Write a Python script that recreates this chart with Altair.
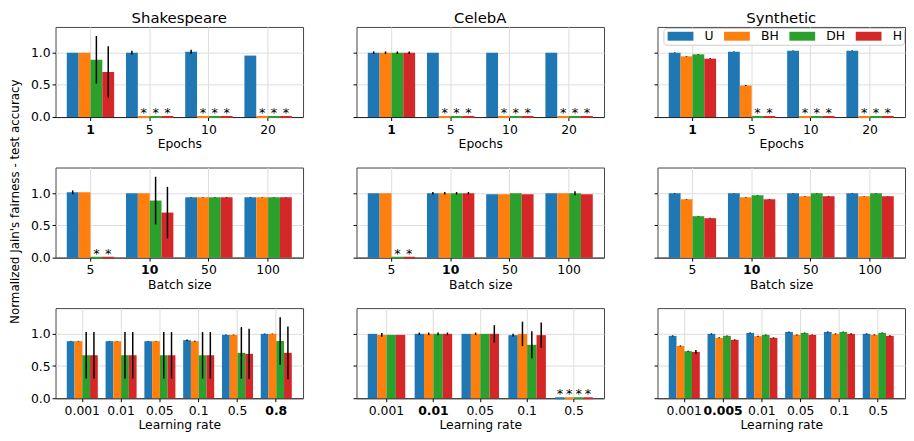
import altair as alt
import pandas as pd

SERIES = ["U", "BH", "DH", "H"]
COLORS = ["#1f77b4", "#ff7f0e", "#2ca02c", "#d62728"]
DATASETS = ["Shakespeare", "CelebA", "Synthetic"]

# ---- Row 1: local epochs ----
EPOCHS = ["1", "5", "10", "20"]
SHK_EP_VAL = [[1.00, 1.00, 1.015, 0.955], [1.00, None, None, None],
              [0.89, None, None, None], [0.70, None, None, None]]
SHK_EP_ERR = [[0.0, 0.03, 0.03, 0.0], [0.0, 0, 0, 0], [0.37, 0, 0, 0], [0.40, 0, 0, 0]]
CEL_EP_VAL = [[1.0, 1.0, 1.0, 1.0], [1.0, None, None, None],
              [1.0, None, None, None], [1.0, None, None, None]]
CEL_EP_ERR = [[0.02, 0, 0, 0], [0.02, 0, 0, 0], [0.02, 0, 0, 0], [0.02, 0, 0, 0]]
SYN_EP_VAL = [[1.0, 1.015, 1.03, 1.03], [0.943, 0.49, None, None],
              [0.974, None, None, None], [0.907, None, None, None]]
SYN_EP_ERR = [[0.005, 0.005, 0.005, 0.005], [0.005, 0.008, 0, 0], [0.005, 0, 0, 0], [0.005, 0, 0, 0]]

# ---- Row 2: batch size ----
BATCH = ["5", "10", "50", "100"]
SHK_BS_VAL = [[1.015, 1.0, 0.938, 0.938], [1.015, 1.0, 0.938, 0.938],
              [None, 0.887, 0.938, 0.938], [None, 0.70, 0.938, 0.938]]
SHK_BS_ERR = [[0.03, 0.0, 0.005, 0.005], [0.0, 0.0, 0.005, 0.005],
              [0, 0.37, 0.005, 0.005], [0, 0.40, 0.005, 0.005]]
CEL_BS_VAL = [[1.0, 1.0, 0.985, 1.0], [1.0, 1.0, 0.985, 1.0],
              [None, 1.0, 1.0, 1.0], [None, 1.0, 0.985, 0.985]]
CEL_BS_ERR = [[0.0, 0.02, 0.0, 0.0], [0.0, 0.02, 0.0, 0.0],
              [0, 0.02, 0.0, 0.03], [0, 0.02, 0.0, 0.0]]
SYN_BS_VAL = [[1.0, 1.0, 1.0, 1.0], [0.907, 0.938, 0.954, 0.954],
              [0.644, 0.969, 1.0, 1.0], [0.613, 0.907, 0.954, 0.954]]
SYN_BS_ERR = [[0.005] * 4, [0.005] * 4, [0.005] * 4, [0.005] * 4]

# ---- Row 3: learning rate ----
SHK_LR = ["0.001", "0.01", "0.05", "0.1", "0.5", "0.8"]
SHK_LR_VAL = [[0.886, 0.886, 0.886, 0.902, 0.984, 1.0],
              [0.886, 0.886, 0.886, 0.886, 0.984, 1.0],
              [0.668, 0.668, 0.668, 0.668, 0.705, 0.89],
              [0.668, 0.668, 0.668, 0.668, 0.69, 0.705]]
SHK_LR_ERR = [[0.005, 0.005, 0.005, 0.012, 0.005, 0.005],
              [0.005, 0.005, 0.005, 0.008, 0.005, 0.005],
              [0.36, 0.36, 0.36, 0.36, 0.40, 0.37],
              [0.36, 0.36, 0.36, 0.36, 0.39, 0.41]]
CEL_LR = ["0.001", "0.01", "0.05", "0.1", "0.5"]
CEL_LR_VAL = [[1.0, 1.0, 1.0, 0.98, None], [0.984, 1.0, 1.0, 1.0, None],
              [0.984, 1.0, 1.0, 0.83, None], [0.984, 1.0, 1.0, 0.98, None]]
CEL_LR_ERR = [[0.0, 0.02, 0.0, 0.02, 0], [0.03, 0.02, 0.02, 0.19, 0],
              [0.0, 0.02, 0.0, 0.21, 0], [0.0, 0.02, 0.135, 0.195, 0]]
SYN_LR = ["0.001", "0.005", "0.01", "0.05", "0.1", "0.5"]
SYN_LR_VAL = [[0.969, 1.0, 1.015, 1.03, 1.03, 1.0],
              [0.813, 0.938, 0.964, 0.984, 1.0, 0.984],
              [0.73, 0.969, 0.984, 1.015, 1.03, 1.015],
              [0.72, 0.907, 0.938, 0.984, 1.0, 0.969]]
SYN_LR_ERR = [[0.008] * 6, [0.008] * 6, [0.006] * 6,
              [0.03, 0.008, 0.008, 0.006, 0.008, 0.01]]

FONT = "DejaVu Sans"
W, H = 250, 91
YLABEL = "Normalized Jain's fairness - test accuracy"


def panel(cats, vals, errs, bold, xtitle, title=None, ylabels=False,
          ytitle=None, legend=False):
    rows = []
    for si, s in enumerate(SERIES):
        for ci, c in enumerate(cats):
            v = vals[si][ci]
            e = errs[si][ci]
            div = v is None
            vv = 0.0 if div else v
            rows.append(dict(cat=c, series=s, value=vv, lo=vv - e, hi=vv + e,
                             div=div))
    df = pd.DataFrame(rows)
    n = len(cats)
    po = (n - 0.2) * 0.05
    x = alt.X("cat:N", sort=cats,
              scale=alt.Scale(domain=cats, paddingInner=0.2, paddingOuter=po),
              axis=alt.Axis(title=xtitle, labelAngle=0, labelFontSize=12.5,
                            titleFontSize=12.5, titleFontWeight="normal",
                            labelFontWeight={"condition": {"test": f"datum.label == '{bold}'",
                                                           "value": "bold"},
                                             "value": "normal"},
                            tickSize=3.5, tickColor="black", labelPadding=3,
                            titlePadding=2, domainColor="#222", grid=True,
                            gridColor="#dddddd", labelColor="black",
                            titleColor="black"))
    xo = alt.XOffset("series:N", sort=SERIES,
                     scale=alt.Scale(domain=SERIES, paddingInner=0, paddingOuter=0))
    yaxis_kw = dict(values=[0, 0.5, 1.0], format=".1f", labels=ylabels,
                    labelFontSize=12.5, tickSize=3.5, tickColor="black",
                    labelPadding=2, domain=False, grid=True, gridColor="#dddddd",
                    title=ytitle if ytitle else None, titleFontSize=12,
                    titleFontWeight="normal", titlePadding=9, labelColor="black",
                    titleColor="black")
    if ytitle:
        yaxis_kw["titleY"] = 34
    yaxis = alt.Axis(**yaxis_kw)
    yscale = alt.Scale(domain=[0, 1.4], nice=False)
    cscale = alt.Scale(domain=SERIES, range=COLORS)
    if legend:
        leg = alt.Legend(orient="top-right", direction="horizontal", columns=4,
                         title=None, symbolType="M-2.17,-0.75H2.17V0.75H-2.17Z",
                         symbolSize=144, symbolStrokeWidth=0, symbolOpacity=1,
                         symbolOffset=9,
                         labelFontSize=12.5, labelOffset=18, columnPadding=8,
                         padding=2, offset=1, fillColor="white",
                         strokeColor="#cccccc", cornerRadius=3,
                         labelColor="black")
    else:
        leg = None
    base = alt.Chart(df)
    bars = base.mark_bar().encode(
        x=x, xOffset=xo,
        y=alt.Y("value:Q", scale=yscale, axis=yaxis),
        color=alt.Color("series:N", scale=cscale, legend=leg),
        stroke=alt.Stroke("series:N", scale=cscale, legend=None),
        strokeWidth=alt.condition("datum.div", alt.value(2), alt.value(0)),
    )
    errs_l = base.mark_rule(color="black", strokeWidth=1.5).encode(
        x=x, xOffset=xo,
        y=alt.Y("lo:Q", scale=yscale, axis=yaxis),
        y2="hi:Q",
    ).transform_filter("!datum.div")
    stars = base.mark_text(text="*", baseline="alphabetic", fontSize=13,
                           color="black", font=FONT, dy=0).encode(
        x=x, xOffset=xo,
        y=alt.Y("value:Q", scale=yscale, axis=yaxis),
    ).transform_filter("datum.div")
    ch = alt.layer(bars, errs_l, stars).properties(width=W, height=H)
    if title:
        ch = ch.properties(title=alt.TitleParams(title, fontSize=15, font=FONT,
                                                 fontWeight="normal", offset=1,
                                                 color="black"))
    return ch


panels = [
    panel(EPOCHS, SHK_EP_VAL, SHK_EP_ERR, "1", "Epochs", title="Shakespeare", ylabels=True),
    panel(EPOCHS, CEL_EP_VAL, CEL_EP_ERR, "1", "Epochs", title="CelebA"),
    panel(EPOCHS, SYN_EP_VAL, SYN_EP_ERR, "1", "Epochs", title="Synthetic", legend=True),
    panel(BATCH, SHK_BS_VAL, SHK_BS_ERR, "10", "Batch size", ylabels=True, ytitle=YLABEL),
    panel(BATCH, CEL_BS_VAL, CEL_BS_ERR, "10", "Batch size"),
    panel(BATCH, SYN_BS_VAL, SYN_BS_ERR, "10", "Batch size"),
    panel(SHK_LR, SHK_LR_VAL, SHK_LR_ERR, "0.8", "Learning rate", ylabels=True),
    panel(CEL_LR, CEL_LR_VAL, CEL_LR_ERR, "0.01", "Learning rate"),
    panel(SYN_LR, SYN_LR_VAL, SYN_LR_ERR, "0.005", "Learning rate"),
]

chart = alt.concat(*panels, columns=3, spacing={"row": 51, "column": 54}).properties(
    align="each", bounds="flush",
    padding={"left": 0, "top": 0, "right": 0, "bottom": 0}
).resolve_scale(
    color="independent", stroke="independent", xOffset="independent"
).resolve_legend(
    color="independent"
).configure(font=FONT).configure_view(stroke="#444", strokeWidth=1)

chart.save("out.html", embed_options={"renderer": "svg", "actions": False})
